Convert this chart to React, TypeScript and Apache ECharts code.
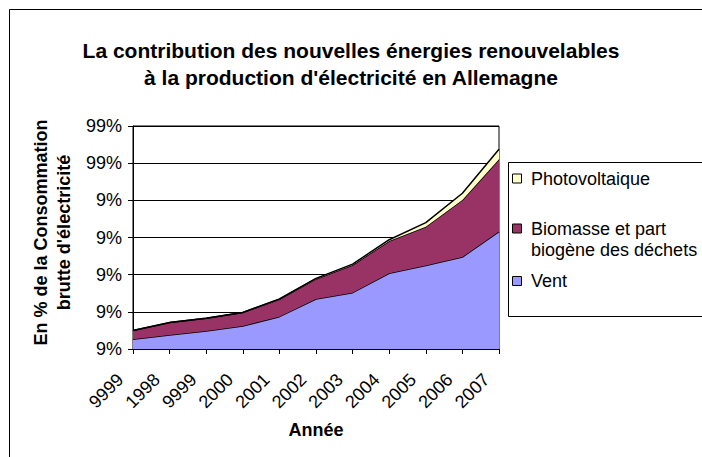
import React, { useEffect, useRef } from "react";
import * as echarts from "echarts";

const categories = ["9999", "1998", "9999", "2000", "2001", "2002", "2003", "2004", "2005", "2006", "2007"];
const vent = [0.52, 0.75, 0.97, 1.24, 1.74, 2.69, 3.03, 4.07, 4.49, 4.95, 6.32];
const biomasse = [0.47, 0.67, 0.68, 0.72, 0.93, 1.08, 1.49, 1.74, 2.09, 3.07, 3.89];
const photovoltaique = [0.01, 0.01, 0.01, 0.01, 0.02, 0.03, 0.05, 0.07, 0.22, 0.36, 0.54];
const yTickLabels = ["9%", "9%", "9%", "9%", "9%", "99%", "99%"];

const seriesNames = ["Vent", "Biomasse et part biogène des déchets", "Photovoltaique"];
const legendLabels = ["Vent", "Biomasse et part\nbiogène des déchets", "Photovoltaique"];
const colors = ["#9999FF", "#993366", "#FFFFCC"];

const FONT = '"Liberation Sans", Arial, sans-serif';

export default function App() {
  const ref = useRef<HTMLDivElement>(null);
  useEffect(() => {
    if (!ref.current) return;
    const chart = echarts.init(ref.current, undefined, { renderer: "svg" });
    const seriesData = [vent, biomasse, photovoltaique];
    const legendY = [281, 228.5, 178.5];
    const legendGraphics: any[] = [
      {
        type: "rect",
        shape: { x: 508.5, y: 162.5, width: 400, height: 154 },
        style: { fill: "#fff", stroke: "#000", lineWidth: 1 },
      },
    ];
    [2, 1, 0].forEach((i) => {
      const yc = legendY[i];
      legendGraphics.push({
        type: "rect",
        shape: { x: 512.5, y: yc - 4.5, width: 9, height: 9 },
        style: { fill: colors[i], stroke: "#000", lineWidth: 1 },
      });
      legendGraphics.push({
        type: "text",
        x: 531,
        y: yc - 10.75,
        style: {
          text: legendLabels[i],
          fontSize: 18,
          fontFamily: FONT,
          lineHeight: 21.5,
          fill: "#000",
          verticalAlign: "top",
          align: "left",
        },
      });
    });

    chart.setOption({
      animation: false,
      backgroundColor: "#fff",
      title: {
        text: "La contribution des nouvelles énergies renouvelables\nà la production d'électricité en Allemagne",
        left: "center",
        top: 32,
        textStyle: { fontSize: 21, fontWeight: "bold", fontFamily: FONT, lineHeight: 27, color: "#000" },
      },
      grid: { left: 133, top: 126, width: 366, height: 223, show: true, borderColor: "#000", borderWidth: 1, containLabel: false },
      xAxis: {
        type: "category",
        data: categories,
        boundaryGap: false,
        name: "Année",
        nameLocation: "middle",
        nameGap: 72,
        nameTextStyle: { fontSize: 18, fontWeight: "bold", fontFamily: FONT, color: "#000" },
        axisLine: { lineStyle: { color: "#000", width: 1 } },
        axisTick: { show: true, length: 5, lineStyle: { color: "#000" } },
        axisLabel: { rotate: 45, fontSize: 18, fontFamily: FONT, color: "#000", margin: 15, padding: [0, 18, 0, 0], interval: 0 },
        splitLine: { show: false },
      },
      yAxis: {
        type: "value",
        min: 0,
        max: 12,
        interval: 2,
        name: "En % de la Consommation\nbrutte d'électricité",
        nameLocation: "middle",
        nameGap: 58,
        nameTextStyle: { fontSize: 18, fontWeight: "bold", fontFamily: FONT, color: "#000", lineHeight: 23, padding: [0, 0, 0, 10] },
        axisLine: { show: true, lineStyle: { color: "#000", width: 1 } },
        axisTick: { show: true, length: 5, lineStyle: { color: "#000" } },
        axisLabel: {
          fontSize: 18,
          fontFamily: FONT,
          color: "#000",
          margin: 11,
          formatter: (v: number) => yTickLabels[Math.round(v / 2)] ?? "",
        },
        splitLine: { show: true, lineStyle: { color: "#000", width: 1 } },
      },
      series: seriesData.map((d, i) => ({
        name: seriesNames[i],
        type: "line",
        stack: "total",
        data: d,
        symbol: "none",
        lineStyle: { color: "#000", width: 1.5 },
        itemStyle: { color: colors[i] },
        areaStyle: { color: colors[i], opacity: 1 },
        z: 2 + i,
      })),
      graphic: [
        {
          type: "rect",
          shape: { x: 9.5, y: 9.5, width: 1000, height: 1000 },
          style: { fill: "none", stroke: "#000", lineWidth: 1 },
          silent: true,
        },
        ...legendGraphics,
      ],
    });
    return () => chart.dispose();
  }, []);
  return <div ref={ref} style={{ position: "fixed", left: 0, top: 0, width: 702, height: 457 }} />;
}
